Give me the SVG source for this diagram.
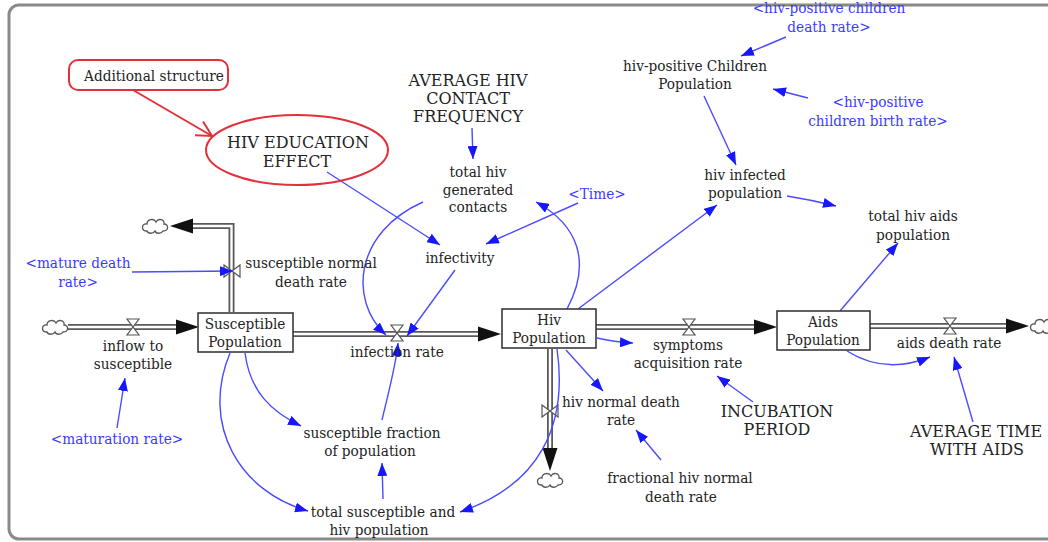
<svg xmlns="http://www.w3.org/2000/svg" width="1048" height="542" viewBox="0 0 1048 542">
  <style>
    text { font-family: "DejaVu Serif Condensed", "DejaVu Serif", serif; font-stretch: condensed; font-size: 15.2px; text-anchor: middle; }
    .caps { font-family: "DejaVu Serif", serif; font-stretch: normal; font-size: 16px; }
    .t { fill: #232323; }
    .b { fill: #3a3aff; }
    .lnk { fill: none; stroke: #4b4bff; stroke-width: 1.4; marker-end: url(#ah); }
    .pipeo { fill: none; stroke: #5a5a5a; stroke-width: 6; stroke-linejoin: miter; }
    .pipei { fill: none; stroke: #ffffff; stroke-width: 2.4; stroke-linejoin: miter; }
    .stock { fill: #ffffff; stroke: #3a3a3a; stroke-width: 1.6; }
    .valve { fill: #ffffff; stroke: #555555; stroke-width: 1.2; }
    .cloud { fill: #ffffff; stroke: #555555; stroke-width: 1.3; }
    .red { fill: none; stroke: #e3303a; stroke-width: 2; }
  </style>
  <defs>
    <marker id="ah" markerUnits="userSpaceOnUse" markerWidth="14" markerHeight="10" refX="13" refY="5" orient="auto">
      <path d="M0,0 L13,5 L0,10 Z" fill="#1616ff"/>
    </marker>
    <marker id="openred" markerUnits="userSpaceOnUse" markerWidth="20" markerHeight="20" refX="17" refY="10" orient="auto">
      <path d="M2,2 L17,10 L2,18" fill="none" stroke="#e3303a" stroke-width="2"/>
    </marker>
    <path id="flowhead" d="M0,0 L-23,-7.5 L-23,7.5 Z" fill="#111111"/>
    <path id="valve" d="M-6,-8 H6 L-6,8 H6 Z" class="valve"/>
    <path id="cloud" class="cloud" d="M-8,5 C-14,5 -14,-3 -8,-2 C-8,-7 -1,-8 1,-4 C3,-8 10,-7 9,-2 C14,-2 14,5 8,5 C6,8 1,8 0,5 C-2,8 -7,8 -8,5 Z"/>
  </defs>

  <!-- sheet frame -->
  <rect x="9" y="5" width="1070" height="534" rx="10" fill="#ffffff" stroke="#8a8a8a" stroke-width="3"/>

  <!-- material flows: pipes, valves, sources and sinks -->
  <g id="flows">
    <path class="pipeo" d="M68,327 H178"/>
    <path class="pipei" d="M68,327 H178"/>
    <path class="pipeo" d="M293,334 H480"/>
    <path class="pipei" d="M293,334 H480"/>
    <path class="pipeo" d="M596,327 H757"/>
    <path class="pipei" d="M596,327 H757"/>
    <path class="pipeo" d="M870,326 H1008"/>
    <path class="pipei" d="M870,326 H1008"/>
    <path class="pipeo" d="M231.5,312 V226 H192"/>
    <path class="pipei" d="M231.5,312 V226 H192"/>
    <path class="pipeo" d="M550,349 V450"/>
    <path class="pipei" d="M550,349 V450"/>
    <use href="#flowhead" transform="translate(199,327)"/>
    <use href="#flowhead" transform="translate(501,334)"/>
    <use href="#flowhead" transform="translate(777,327)"/>
    <use href="#flowhead" transform="translate(1029,326)"/>
    <use href="#flowhead" transform="translate(170,226) rotate(180)"/>
    <use href="#flowhead" transform="translate(550,471) rotate(90)"/>
    <use href="#cloud" transform="translate(55,327)"/>
    <use href="#cloud" transform="translate(155,226)"/>
    <use href="#cloud" transform="translate(550,480)"/>
    <use href="#cloud" transform="translate(1043,326)"/>
    <use href="#valve" transform="translate(133,327)"/>
    <use href="#valve" transform="translate(397,333)"/>
    <use href="#valve" transform="translate(689,327)"/>
    <use href="#valve" transform="translate(950,326)"/>
    <use href="#valve" transform="translate(232,271) rotate(90)"/>
    <use href="#valve" transform="translate(550,411) rotate(90)"/>
  </g>

  <!-- information links -->
  <g id="connectors">
    <path class="lnk" d="M472,128 L473,159"/>
    <path class="lnk" d="M704,96 L736,165"/>
    <path class="lnk" d="M786,37 L741,56"/>
    <path class="lnk" d="M808,98 L773,89"/>
    <path class="lnk" d="M787,196 Q812,200 836,206"/>
    <path class="lnk" d="M578,309 L717,205"/>
    <path class="lnk" d="M840,311 L898,243"/>
    <path class="lnk" d="M327,172 L440,245"/>
    <path class="lnk" d="M578,203 L486,244"/>
    <path class="lnk" d="M567,309 C592,262 578,225 536,202"/>
    <path class="lnk" d="M423,202 C355,232 348,300 386,335"/>
    <path class="lnk" d="M455,270 L407,336"/>
    <path class="lnk" d="M382,420 C389,390 396,365 398,343"/>
    <path class="lnk" d="M383,499 L382,463"/>
    <path class="lnk" d="M245,353 C250,392 272,412 301,426"/>
    <path class="lnk" d="M230,353 C200,425 240,492 308,511"/>
    <path class="lnk" d="M557,349 C568,425 540,485 460,512"/>
    <path class="lnk" d="M597,338 Q614,342 633,343"/>
    <path class="lnk" d="M566,350 L603,391"/>
    <path class="lnk" d="M753,402 L717,376"/>
    <path class="lnk" d="M661,460 L636,430"/>
    <path class="lnk" d="M847,351 Q885,375 930,357"/>
    <path class="lnk" d="M973,422 L954,357"/>
    <path class="lnk" d="M132,272 L233,271"/>
    <path class="lnk" d="M117,428 L125,378"/>
    <path class="red" d="M133,90 L212,136" marker-end="url(#openred)"/>
  </g>

  <!-- stocks -->
  <g id="susceptible-population">
    <rect class="stock" x="198" y="313" width="95" height="39"/>
    <text class="t" x="245" y="329">Susceptible</text>
    <text class="t" x="245" y="347">Population</text>
  </g>
  <g id="hiv-population">
    <rect class="stock" x="502" y="309" width="94" height="39"/>
    <text class="t" x="549" y="325">Hiv</text>
    <text class="t" x="549" y="343">Population</text>
  </g>
  <g id="aids-population">
    <rect class="stock" x="777" y="311" width="93" height="39"/>
    <text class="t" x="823" y="327">Aids</text>
    <text class="t" x="823" y="345">Population</text>
  </g>

  <!-- added structure -->
  <g id="additional-structure">
    <rect class="red" x="69" y="60" width="159" height="30" rx="9"/>
    <text class="t" x="154" y="81">Additional structure</text>
  </g>
  <g id="hiv-education-effect">
    <ellipse class="red" cx="297" cy="150" rx="91" ry="35"/>
    <text class="t caps" x="298" y="148">HIV EDUCATION</text>
    <text class="t caps" x="297" y="167">EFFECT</text>
  </g>

  <!-- auxiliaries and constants -->
  <g id="average-hiv-contact-frequency">
    <text class="t caps" x="468" y="86">AVERAGE HIV</text>
    <text class="t caps" x="468" y="104">CONTACT</text>
    <text class="t caps" x="468" y="122">FREQUENCY</text>
  </g>
  <g id="total-hiv-generated-contacts">
    <text class="t" x="478" y="177">total hiv</text>
    <text class="t" x="478" y="195">generated</text>
    <text class="t" x="478" y="212">contacts</text>
  </g>
  <g id="time">
    <text class="b" x="597" y="199">&lt;Time&gt;</text>
  </g>
  <g id="hiv-positive-children-population">
    <text class="t" x="695" y="71">hiv-positive Children</text>
    <text class="t" x="695" y="89">Population</text>
  </g>
  <g id="hiv-positive-children-death-rate">
    <text class="b" x="829" y="13">&lt;hiv-positive children</text>
    <text class="b" x="829" y="32">death rate&gt;</text>
  </g>
  <g id="hiv-positive-children-birth-rate">
    <text class="b" x="878" y="107">&lt;hiv-positive</text>
    <text class="b" x="878" y="126">children birth rate&gt;</text>
  </g>
  <g id="hiv-infected-population">
    <text class="t" x="745" y="180">hiv infected</text>
    <text class="t" x="745" y="198">population</text>
  </g>
  <g id="total-hiv-aids-population">
    <text class="t" x="913" y="221">total hiv aids</text>
    <text class="t" x="913" y="240">population</text>
  </g>
  <g id="infectivity">
    <text class="t" x="460" y="263">infectivity</text>
  </g>
  <g id="mature-death-rate">
    <text class="b" x="78" y="268">&lt;mature death</text>
    <text class="b" x="78" y="287">rate&gt;</text>
  </g>
  <g id="susceptible-normal-death-rate">
    <text class="t" x="311" y="268">susceptible normal</text>
    <text class="t" x="311" y="287">death rate</text>
  </g>
  <g id="inflow-to-susceptible">
    <text class="t" x="133" y="351">inflow to</text>
    <text class="t" x="133" y="369">susceptible</text>
  </g>
  <g id="maturation-rate">
    <text class="b" x="117" y="444">&lt;maturation rate&gt;</text>
  </g>
  <g id="infection-rate">
    <text class="t" x="397" y="357">infection rate</text>
  </g>
  <g id="symptoms-acquisition-rate">
    <text class="t" x="688" y="350">symptoms</text>
    <text class="t" x="688" y="368">acquisition rate</text>
  </g>
  <g id="aids-death-rate">
    <text class="t" x="949" y="348">aids death rate</text>
  </g>
  <g id="hiv-normal-death-rate">
    <text class="t" x="621" y="407">hiv normal death</text>
    <text class="t" x="621" y="425">rate</text>
  </g>
  <g id="incubation-period">
    <text class="t caps" x="777" y="417">INCUBATION</text>
    <text class="t caps" x="777" y="435">PERIOD</text>
  </g>
  <g id="average-time-with-aids">
    <text class="t caps" x="976" y="437">AVERAGE TIME</text>
    <text class="t caps" x="977" y="455">WITH AIDS</text>
  </g>
  <g id="susceptible-fraction-of-population">
    <text class="t" x="372" y="438">susceptible fraction</text>
    <text class="t" x="370" y="456">of population</text>
  </g>
  <g id="fractional-hiv-normal-death-rate">
    <text class="t" x="680" y="483">fractional hiv normal</text>
    <text class="t" x="681" y="502">death rate</text>
  </g>
  <g id="total-susceptible-and-hiv-population">
    <text class="t" x="383" y="517">total susceptible and</text>
    <text class="t" x="379" y="535">hiv population</text>
  </g>
</svg>
